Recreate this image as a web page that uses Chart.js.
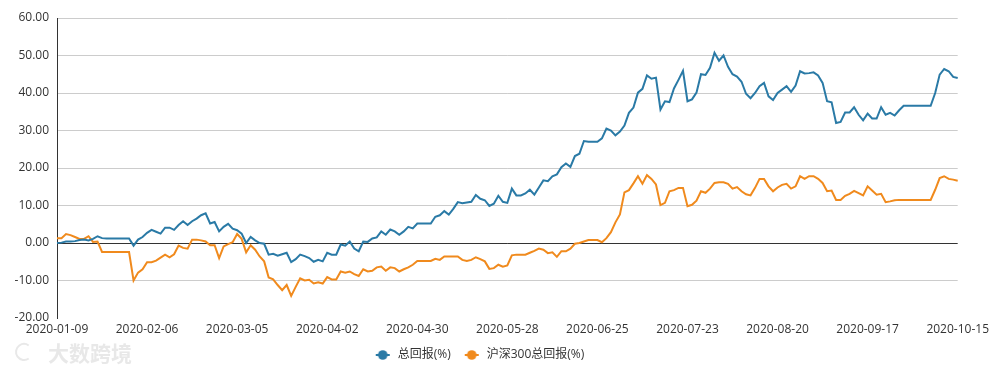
<!DOCTYPE html>
<html>
<head>
<meta charset="utf-8">
<script src="https://cdn.jsdelivr.net/npm/chart.js@4/dist/chart.umd.min.js"></script>
<style>
  html, body { margin: 0; padding: 0; background: #fff; }
  #wrap { position: relative; width: 993px; height: 371px; }
</style>
</head>
<body>
<div id="wrap"><canvas id="chart" width="993" height="371"></canvas></div>
<script>
// trading days (weekdays) from 2020-01-09 to 2020-10-15
const startDate = "2020-01-09";
const pointCount = 201;
const labelEvery = 20;

const seriesNames = ["总回报(%)", "沪深300总回报(%)"];

const totalReturn = [
  0.0, 0.1, 0.4, 0.4, 0.5, 0.8, 0.9, 0.7, 1.1, 1.8, 1.3,
  1.2, 1.2, 1.2, 1.2, 1.2, 1.2, -0.7, 0.9, 1.6, 2.7,
  3.5, 3.0, 2.5, 4.1, 4.1, 3.5, 4.8, 5.8, 4.8, 5.8,
  6.5, 7.4, 7.9, 5.2, 5.6, 3.1, 4.3, 5.1, 3.8, 3.4,
  2.5, 0.0, 1.6, 0.7, 0.0, -0.2, -3.1, -2.9, -3.4, -3.0,
  -2.6, -5.1, -4.3, -3.1, -3.5, -4.0, -5.0, -4.5, -4.9, -2.6,
  -3.1, -3.1, -0.4, -0.7, 0.4, -1.5, -2.2, 0.4, 0.3, 1.2,
  1.5, 3.1, 2.2, 3.6, 3.1, 2.2, 3.1, 4.3, 3.9, 5.2,
  5.2, 5.2, 5.2, 7.0, 7.4, 8.5, 7.6, 9.1, 10.9, 10.6,
  10.8, 11.0, 12.8, 11.8, 11.4, 9.9, 10.5, 12.6, 11.0, 10.7,
  14.5, 12.7, 12.7, 13.2, 14.2, 12.9, 14.8, 16.7, 16.5, 17.8,
  18.3, 20.2, 21.2, 20.3, 23.2, 23.8, 27.2, 27.0, 27.0, 27.0,
  27.9, 30.5, 30.0, 28.7, 29.7, 31.3, 34.7, 36.1, 40.1, 41.1,
  44.7, 43.8, 44.1, 35.6, 37.8, 37.6, 41.2, 43.5, 45.9, 37.8,
  38.3, 40.1, 45.0, 44.8, 46.7, 50.7, 48.6, 50.0, 47.0, 45.0,
  44.4, 43.0, 39.8, 38.6, 40.0, 41.8, 42.7, 39.1, 38.1, 40.0,
  40.9, 41.8, 40.3, 42.0, 45.8, 45.2, 45.3, 45.5, 44.7, 42.7,
  37.8, 37.5, 32.0, 32.3, 34.8, 34.8, 36.2, 34.2, 32.7, 34.5,
  33.2, 33.2, 36.2, 34.2, 34.7, 34.0, 35.4, 36.6, 36.6, 36.6,
  36.6, 36.6, 36.6, 36.6, 40.0, 44.9, 46.4, 45.8, 44.3, 44.0
];

const hs300Return = [
  1.3, 1.3, 2.4, 2.1, 1.6, 1.1, 1.1, 1.8, 0.3, 0.4, -2.4,
  -2.4, -2.4, -2.4, -2.4, -2.4, -2.4, -10.0, -7.9, -7.0, -5.1,
  -5.1, -4.7, -3.9, -3.1, -3.8, -3.0, -0.7, -1.3, -1.5, 0.9,
  0.9, 0.7, 0.4, -0.6, -0.6, -4.0, -0.9, -0.3, 0.2, 2.4,
  1.1, -2.5, -0.6, -1.8, -3.6, -4.9, -9.2, -9.7, -11.2, -12.6,
  -11.2, -14.1, -11.7, -9.4, -10.0, -9.8, -10.8, -10.5, -10.8, -9.1,
  -9.7, -9.7, -7.6, -7.9, -7.6, -8.3, -8.8, -7.0, -7.6, -7.4,
  -6.5, -6.3, -7.4, -6.5, -6.7, -7.6, -7.0, -6.5, -5.8, -4.8,
  -4.8, -4.8, -4.8, -4.2, -4.5, -3.6, -3.6, -3.6, -3.6, -4.5,
  -4.8, -4.5, -3.8, -4.3, -4.9, -6.9, -6.7, -5.8, -6.3, -6.0,
  -3.3, -3.1, -3.1, -3.1, -2.6, -2.1, -1.5, -1.8, -2.7, -2.5,
  -3.7, -2.2, -2.2, -1.5, -0.2, 0.0, 0.4, 0.8, 0.8, 0.8,
  0.2, 1.3, 2.9, 5.5, 7.6, 13.5, 14.1, 15.9, 17.8, 15.8,
  18.1, 17.1, 15.6, 10.1, 10.7, 13.8, 14.1, 14.7, 14.7, 9.8,
  10.2, 11.3, 13.8, 13.4, 14.5, 16.0, 16.2, 16.2, 15.8, 14.5,
  14.9, 13.8, 13.0, 12.7, 14.7, 17.1, 17.1, 15.1, 13.8, 14.8,
  15.5, 15.8, 14.5, 15.1, 17.8, 17.1, 17.8, 17.8, 17.1, 16.0,
  13.8, 14.0, 11.5, 11.5, 12.6, 13.1, 13.9, 13.3, 12.7, 15.1,
  14.0, 12.9, 13.1, 10.9, 11.1, 11.4, 11.5, 11.5, 11.5, 11.5,
  11.5, 11.5, 11.5, 11.5, 14.2, 17.3, 17.8, 17.1, 16.9, 16.6
];

const yMin = -20;
const yMax = 60;
const yStep = 10;

const colors = ["#2a7aa6", "#f08a1d"];

function buildDates(start, count) {
  const out = [];
  const d = new Date(start + "T00:00:00Z");
  while (out.length < count) {
    const day = d.getUTCDay();
    if (day !== 0 && day !== 6) out.push(d.toISOString().slice(0, 10));
    d.setUTCDate(d.getUTCDate() + 1);
  }
  return out;
}

const dates = buildDates(startDate, pointCount);

// legend icon: short line with a dot, like the original
function legendIcon(color) {
  const c = document.createElement("canvas");
  c.width = 18;
  c.height = 12;
  const g = c.getContext("2d");
  g.strokeStyle = color;
  g.lineWidth = 2;
  g.beginPath();
  g.moveTo(2, 6);
  g.lineTo(16, 6);
  g.stroke();
  g.fillStyle = color;
  g.beginPath();
  g.arc(9, 6, 4.8, 0, Math.PI * 2);
  g.fill();
  return c;
}

const watermark = {
  id: "watermark",
  afterDraw(chart) {
    const g = chart.ctx;
    g.save();
    g.fillStyle = "rgba(205,205,205,0.45)";
    g.font = "bold 21px 'Noto Sans CJK SC', sans-serif";
    g.textBaseline = "middle";
    g.fillText("大数跨境", 48, 353);
    g.strokeStyle = "rgba(205,205,205,0.45)";
    g.lineWidth = 2;
    g.beginPath();
    g.arc(24, 352, 8, 0.3 * Math.PI, 1.7 * Math.PI);
    g.stroke();
    g.restore();
  }
};

const font = "'Open Sans', 'Noto Sans CJK SC', sans-serif";
Chart.defaults.font.family = font;
Chart.defaults.font.size = 12;
Chart.defaults.color = "#333";

new Chart(document.getElementById("chart").getContext("2d"), {
  type: "line",
  data: {
    labels: dates,
    datasets: [
      {
        label: seriesNames[0],
        data: totalReturn,
        borderColor: colors[0],
        backgroundColor: colors[0],
        borderWidth: 2,
        pointRadius: 0,
        tension: 0
      },
      {
        label: seriesNames[1],
        data: hs300Return,
        borderColor: colors[1],
        backgroundColor: colors[1],
        borderWidth: 2,
        pointRadius: 0,
        tension: 0
      }
    ]
  },
  options: {
    responsive: false,
    animation: false,
    layout: { padding: { top: 18, right: 35, left: 0, bottom: 0 } },
    plugins: {
      tooltip: { enabled: false },
      legend: {
        position: "bottom",
        labels: {
          usePointStyle: true,
          pointStyleWidth: 18,
          boxHeight: 12,
          padding: 12,
          color: "#333",
          font: { size: 12 },
          generateLabels(chart) {
            const items = Chart.defaults.plugins.legend.labels.generateLabels(chart);
            items.forEach((item, i) => {
              item.pointStyle = legendIcon(colors[i]);
            });
            return items;
          }
        }
      }
    },
    scales: {
      x: {
        type: "category",
        offset: false,
        grid: { display: false, drawTicks: false },
        border: { display: false },
        ticks: {
          autoSkip: false,
          maxRotation: 0,
          padding: 4,
          color: "#333",
          font: { size: 12 },
          callback(value, index) {
            return index % labelEvery === 0 ? dates[index] : null;
          }
        },
        afterFit(scale) { scale.height = 19; }
      },
      y: {
        min: yMin,
        max: yMax,
        grid: {
          drawTicks: false,
          color(ctx) {
            if (ctx.tick.value === 0) return "#333";
            if (ctx.tick.value === yMin) return "rgba(0,0,0,0)";
            return "#ccc";
          }
        },
        border: { display: true, color: "#333", width: 1 },
        ticks: {
          stepSize: yStep,
          padding: 8,
          color: "#333",
          font: { size: 12 },
          callback(v) { return v.toFixed(2); }
        },
        afterFit(scale) { scale.width = 57; }
      }
    }
  },
  plugins: [watermark]
});
</script>
</body>
</html>
